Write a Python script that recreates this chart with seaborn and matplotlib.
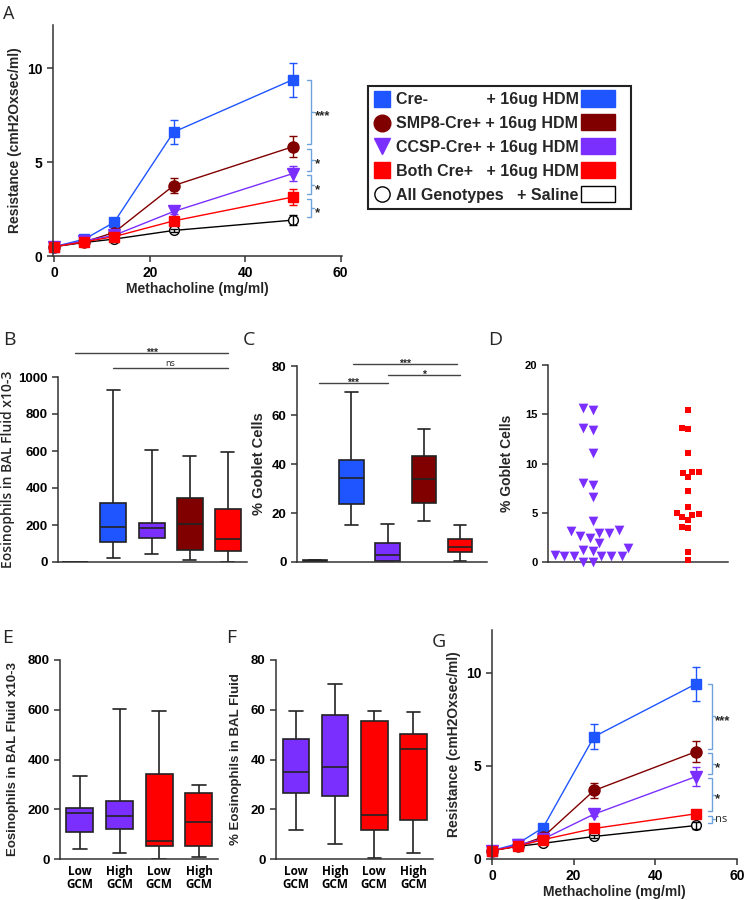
import numpy as np
import pandas as pd
import matplotlib
matplotlib.use("Agg")
import matplotlib.pyplot as plt
from matplotlib.lines import Line2D
from matplotlib.patches import Patch, Rectangle
from matplotlib.legend_handler import HandlerPatch
from matplotlib.font_manager import FontProperties
import seaborn as sns

# ---------------- data ----------------
doses = [0, 6.25, 12.5, 25, 50]

# panel A: resistance, mean / SEM per dose
a_cre = [0.5, 0.89, 1.79, 6.6, 9.39]
a_cre_err = [0.05, 0.05, 0.1, 0.65, 0.9]
a_smp8 = [0.5, 0.75, 1.25, 3.75, 5.82]
a_smp8_err = [0.05, 0.05, 0.1, 0.38, 0.55]
a_ccsp = [0.5, 0.8, 1.1, 2.37, 4.39]
a_ccsp_err = [0.05, 0.05, 0.08, 0.12, 0.4]
a_both = [0.5, 0.75, 1.03, 1.87, 3.14]
a_both_err = [0.05, 0.05, 0.08, 0.15, 0.42]
a_saline = [0.5, 0.72, 0.9, 1.36, 1.91]
a_saline_err = [0.05, 0.05, 0.05, 0.1, 0.25]
a_stars = ["***", "*", "*", "*"]

# panel G: resistance, mean / SEM per dose
g_cre = [0.45, 0.82, 1.68, 6.57, 9.41]
g_cre_err = [0.05, 0.05, 0.1, 0.68, 0.91]
g_smp8 = [0.45, 0.7, 1.18, 3.68, 5.77]
g_smp8_err = [0.05, 0.05, 0.1, 0.41, 0.58]
g_ccsp = [0.45, 0.75, 1.07, 2.41, 4.43]
g_ccsp_err = [0.05, 0.05, 0.08, 0.12, 0.52]
g_both = [0.45, 0.68, 1.04, 1.64, 2.43]
g_both_err = [0.05, 0.05, 0.08, 0.15, 0.15]
g_saline = [0.45, 0.68, 0.84, 1.21, 1.80]
g_saline_err = [0.05, 0.05, 0.05, 0.1, 0.2]
g_stars = ["***", "*", "*", "ns"]

# legend text
legend_genotypes = ["Cre-", "SMP8-Cre+", "CCSP-Cre+", "Both Cre+", "All Genotypes"]
legend_treatments = ["+ 16ug HDM", "+ 16ug HDM", "+ 16ug HDM", "+ 16ug HDM", "+ Saline"]

# box panels: [min, Q1, median, Q3, max]
box_groups = ["Saline", "Cre-", "CCSP-Cre+", "SMP8-Cre+", "Both Cre+"]
b_saline = [0, 0, 0, 0, 0]
b_cre = [24, 108, 191, 321, 932]
b_ccsp = [41, 130, 186, 210, 606]
b_smp8 = [9, 67, 203, 348, 575]
b_both = [0, 58, 126, 287, 596]

c_saline = [0.3, 0.5, 0.6, 0.8, 1.0]
c_cre = [15.0, 23.7, 34.2, 41.8, 69.2]
c_ccsp = [0.0, 0.4, 2.7, 7.8, 15.7]
c_smp8 = [16.8, 24.1, 33.7, 43.2, 54.2]
c_both = [0.4, 4.0, 6.3, 9.5, 15.3]

gcm_groups = ["CCSP Low", "CCSP High", "Both Low", "Both High"]
gcm_labels = ["Low\nGCM", "High\nGCM", "Low\nGCM", "High\nGCM"]
e_ccsp_low = [40, 109, 183, 204, 333]
e_ccsp_high = [25, 121, 173, 232, 605]
e_both_low = [0, 52, 72, 343, 595]
e_both_high = [8, 52, 147, 265, 296]

f_ccsp_low = [11.5, 26.7, 34.8, 48.3, 59.5]
f_ccsp_high = [6.2, 25.5, 37.1, 57.9, 70.2]
f_both_low = [0.3, 11.5, 17.6, 55.5, 59.5]
f_both_high = [2.5, 15.7, 44.2, 50.4, 59.1]

# panel D: % goblet cells per mouse
d_ccsp = [15.6, 15.4, 13.4, 13.6, 11.1, 7.8, 8.0, 6.6, 4.2, 3.1, 2.9, 3.2, 2.9,
          2.4, 2.6, 1.9, 1.2, 1.4, 1.1, 0.6, 0.6, 0.6, 0.6, 0.6, 0.7, 0.05, 0.05]
d_both = [15.4, 13.5, 13.6, 11.1, 9.1, 8.6, 9.0, 9.1, 7.2, 5.6, 5.0, 4.9, 4.6,
          4.8, 4.3, 3.5, 3.6, 1.0, 0.2]

# ---------------- style ----------------
BLUE = "#1f55ff"
DRED = "#800000"
PURP = "#7b2fff"
RED = "#ff0000"
GRAY = "#777777"
BRACE = "#6fa3dc"
INK = "#222222"

sns.set_style("ticks")
plt.rcParams["font.family"] = ["Liberation Sans", "DejaVu Sans"]
plt.rcParams["font.weight"] = "bold"
plt.rcParams["axes.labelweight"] = "bold"
plt.rcParams["axes.edgecolor"] = "#333333"
plt.rcParams["axes.linewidth"] = 1.1
plt.rcParams["xtick.color"] = "#333333"
plt.rcParams["ytick.color"] = "#333333"
plt.rcParams["xtick.labelcolor"] = "black"
plt.rcParams["ytick.labelcolor"] = "black"

W, H = 747, 900
fig = plt.figure(figsize=(W / 100, H / 100), dpi=100)


def px_axes(l, t, r, b):
    return fig.add_axes([l / W, 1 - b / H, (r - l) / W, (b - t) / H])


def letter(x, y, s, size=14):
    fig.text(x / W, 1 - y / H, s, ha="left", va="top", fontsize=size,
             family="Open Sans", fontweight="normal")


def style_ax(ax, tsize=9):
    sns.despine(ax=ax)
    ax.tick_params(direction="out", length=4, width=1.1, labelsize=tsize)
    for lab in ax.get_yticklabels() + ax.get_xticklabels():
        lab.set_fontweight("bold")


def resistance_panel(ax, series, stars, xlim):
    for m, e, col, mk, face, ms in series:
        m = np.array(m)
        e = np.array(e)
        df = pd.DataFrame({"dose": doses * 2, "res": np.r_[m - e, m + e]})
        sns.lineplot(data=df, x="dose", y="res", ax=ax, color=col, lw=1,
                     marker=mk, markersize=ms, mfc=face, mec=col, mew=1,
                     err_style="bars", errorbar=("pi", 100),
                     err_kws=dict(capsize=3, elinewidth=1, capthick=1),
                     clip_on=False)
    # significance braces at the last dose (HDM groups top-down, then saline)
    order = [series[1][0][-1], series[2][0][-1], series[3][0][-1],
             series[4][0][-1], series[0][0][-1]]
    x0 = 52.9
    for i, st in enumerate(stars):
        hi = order[i] - (0.1 if i > 0 else 0)
        lo = order[i + 1] + 0.15
        mid = (hi + lo) / 2
        ax.plot([x0, x0 + 0.9, x0 + 0.9, x0], [hi, hi, lo, lo], color=BRACE,
                lw=1, clip_on=False)
        ax.plot([x0 + 0.9, x0 + 1.6], [mid, mid], color=BRACE, lw=1,
                clip_on=False)
        if st == "ns":
            ax.annotate(st, (x0 + 1.8, mid), xytext=(0, 0),
                        textcoords="offset points", ha="left", va="center",
                        fontsize=8, fontweight="normal", family="Open Sans")
        else:
            ax.annotate(st, (x0 + 1.7, mid), xytext=(0, -3.5),
                        textcoords="offset points", ha="left", va="center",
                        fontsize=9.5)
    ax.set_xlim(*xlim)
    ax.set_ylim(0, 12.3)
    ax.set_xticks([0, 20, 40, 60])
    ax.set_yticks([0, 5, 10])
    ax.set_xlabel("Methacholine (mg/ml)", fontsize=10, labelpad=1)
    ax.set_ylabel("Resistance (cmH2Oxsec/ml)", fontsize=10)
    style_ax(ax, 10)


def box_panel(ax, groups, values, colors, order):
    df = pd.DataFrame({"group": np.repeat(groups, 5),
                       "value": np.concatenate(values)})
    sns.boxplot(data=df, x="group", y="value", hue="group", order=order,
                hue_order=order, palette=dict(zip(groups, colors)),
                whis=(0, 100), width=0.68, linewidth=1.2, linecolor=INK,
                saturation=1, legend=False, ax=ax)
    ax.set_xlabel("")


def sig_line(ax, x0, x1, y, s):
    ax.plot([x0, x1], [y, y], color="#444444", lw=1, clip_on=False)
    if s == "ns":
        ax.text((x0 + x1) / 2, y, s, ha="center", va="bottom", fontsize=6.5,
                fontweight="normal", family="Open Sans")
    else:
        ax.text((x0 + x1) / 2, y, s, ha="center", va="center", fontsize=7.5)


# ---------------- panel A ----------------
ax_a = px_axes(53, 25, 342, 256)
series_a = [
    (a_saline, a_saline_err, "black", "o", "white", 7),
    (a_cre, a_cre_err, BLUE, "s", BLUE, 7),
    (a_smp8, a_smp8_err, DRED, "o", DRED, 8),
    (a_ccsp, a_ccsp_err, PURP, "v", PURP, 8),
    (a_both, a_both_err, RED, "s", RED, 7),
]
resistance_panel(ax_a, series_a, a_stars, (-0.3, 60.3))
letter(3, 5, "A", 13)

# legend: genotype and treatment aligned with measured space padding
leg_font = FontProperties(family=["Liberation Sans", "DejaVu Sans"],
                          weight="bold", size=11.5)
renderer = fig.canvas.get_renderer()


def text_w(s):
    t = fig.text(0, 0, s, fontproperties=leg_font)
    w = t.get_window_extent(renderer).width
    t.remove()
    return w


space_w = text_w("a a") - text_w("aa")
col_x = max(text_w(g) for g in legend_genotypes[:4]) + space_w
end_x = max(col_x + text_w(legend_treatments[0]),
            text_w(legend_genotypes[4]) + space_w + text_w(legend_treatments[4]))
leg_labels = []
for i, (g, t) in enumerate(zip(legend_genotypes, legend_treatments)):
    if i < 4:
        gap = col_x - text_w(g)
    else:
        gap = end_x - text_w(g) - text_w(t)
    n = max(1, int(round(gap / space_w)))
    leg_labels.append(g + " " * n + t)


def wide_swatch(legend, orig_handle, xdescent, ydescent, width, height, fontsize):
    return Rectangle((-xdescent, -ydescent - 0.2 * height), 2.4 * width,
                     1.45 * height)


mk_handles = [
    Line2D([], [], ls="none", marker="s", ms=11, color=BLUE),
    Line2D([], [], ls="none", marker="o", ms=12, color=DRED),
    Line2D([], [], ls="none", marker="v", ms=12, color=PURP),
    Line2D([], [], ls="none", marker="s", ms=11, color=RED),
    Line2D([], [], ls="none", marker="o", ms=11, mfc="white", mec="black"),
]
swatches = [Patch(fc=BLUE, ec=BLUE), Patch(fc=DRED, ec=DRED),
            Patch(fc=PURP, ec=PURP), Patch(fc=RED, ec=RED),
            Patch(fc="white", ec="black", lw=1)]
leg = ax_a.legend(handles=mk_handles + swatches,
                  labels=leg_labels + ["     "] * 5,
                  ncol=2, loc="upper left", bbox_to_anchor=(368 / W, 1 - 86 / H),
                  bbox_transform=fig.transFigure, frameon=True, fancybox=False,
                  edgecolor=INK, framealpha=1, borderaxespad=0,
                  prop=leg_font, handlelength=0.9, handletextpad=0.45,
                  columnspacing=0.1, labelspacing=0.55, borderpad=0.4,
                  handler_map={Patch: HandlerPatch(patch_func=wide_swatch)})
leg.get_frame().set_linewidth(1.5)

# ---------------- panel B ----------------
ax_b = px_axes(58, 377, 247, 562)
box_panel(ax_b, box_groups, [b_saline, b_cre, b_ccsp, b_smp8, b_both],
          [GRAY, BLUE, PURP, DRED, RED], box_groups)
ax_b.set_xlim(-0.45, 4.5)
ax_b.set_ylim(0, 1000)
ax_b.set_yticks(range(0, 1001, 200))
ax_b.set_ylabel("Eosinophils in BAL Fluid x10-3", fontsize=10,
                family="Open Sans", fontweight="semibold", labelpad=2)
style_ax(ax_b, 9.5)
ax_b.tick_params(axis="x", length=0, labelbottom=False)
sig_line(ax_b, 0, 4, 1130, "***")
sig_line(ax_b, 1, 4, 1050, "ns")
letter(3, 331, "B")

# ---------------- panel C ----------------
ax_c = px_axes(297, 366, 487, 562)
box_panel(ax_c, box_groups, [c_saline, c_cre, c_ccsp, c_smp8, c_both],
          [GRAY, BLUE, PURP, DRED, RED], box_groups)
ax_c.set_xlim(-0.5, 4.74)
ax_c.set_ylim(0, 80)
ax_c.set_yticks(range(0, 81, 20))
ax_c.set_ylabel("% Goblet Cells", fontsize=10.5, labelpad=4)
style_ax(ax_c, 9.5)
ax_c.tick_params(axis="x", length=0, labelbottom=False)
sig_line(ax_c, 0.1, 2.0, 73, "***")
sig_line(ax_c, 1.05, 3.9, 81, "***")
sig_line(ax_c, 2.0, 4.0, 76.3, "*")
letter(243, 331, "C")

# ---------------- panel D ----------------
ax_d = px_axes(548, 365, 728, 562)
d_order = ["CCSP-Cre+", "Both Cre+"]
sns.swarmplot(x=["CCSP-Cre+"] * len(d_ccsp), y=d_ccsp, order=d_order,
              marker="v", color=PURP, size=7, linewidth=0, ax=ax_d)
sns.swarmplot(x=["Both Cre+"] * len(d_both), y=d_both, order=d_order,
              marker="s", color=RED, size=4.5, linewidth=0, ax=ax_d)
ax_d.set_xlim(-0.47, 1.42)
ax_d.set_ylim(0, 20)
ax_d.set_yticks(range(0, 21, 5))
ax_d.set_ylabel("% Goblet Cells", fontsize=10, labelpad=8)
style_ax(ax_d, 8)
ax_d.tick_params(axis="x", length=0, labelbottom=False)
for c in ax_d.collections:
    c.set_clip_on(False)
letter(488, 331, "D")

# ---------------- panel E ----------------
ax_e = px_axes(60, 660, 218, 859)
box_panel(ax_e, gcm_groups, [e_ccsp_low, e_ccsp_high, e_both_low, e_both_high],
          [PURP, PURP, RED, RED], gcm_groups)
ax_e.set_xlim(-0.5, 3.48)
ax_e.set_ylim(0, 800)
ax_e.set_yticks(range(0, 801, 200))
ax_e.set_ylabel("Eosinophils in BAL Fluid x10-3", fontsize=9.5, labelpad=6)
style_ax(ax_e, 9.5)
ax_e.tick_params(axis="x", length=0, pad=4)
ax_e.set_xticks(range(4))
ax_e.set_xticklabels(gcm_labels, family="Open Sans", fontweight="bold",
                     fontsize=8.5, linespacing=1.05)
letter(2, 629, "E")

# ---------------- panel F ----------------
ax_f = px_axes(276, 660, 433, 859)
box_panel(ax_f, gcm_groups, [f_ccsp_low, f_ccsp_high, f_both_low, f_both_high],
          [PURP, PURP, RED, RED], gcm_groups)
ax_f.set_xlim(-0.51, 3.5)
ax_f.set_ylim(0, 80)
ax_f.set_yticks(range(0, 81, 20))
ax_f.set_ylabel("% Eosinophils in BAL Fluid", fontsize=9.5, labelpad=6)
style_ax(ax_f, 9.5)
ax_f.tick_params(axis="x", length=0, pad=4)
ax_f.set_xticks(range(4))
ax_f.set_xticklabels(gcm_labels, family="Open Sans", fontweight="bold",
                     fontsize=8.5, linespacing=1.05)
letter(226, 629, "F")

# ---------------- panel G ----------------
ax_g = px_axes(492, 630, 737, 859)
series_g = [
    (g_saline, g_saline_err, "black", "o", "white", 7),
    (g_cre, g_cre_err, BLUE, "s", BLUE, 7),
    (g_smp8, g_smp8_err, DRED, "o", DRED, 8),
    (g_ccsp, g_ccsp_err, PURP, "v", PURP, 8),
    (g_both, g_both_err, RED, "s", RED, 7),
]
resistance_panel(ax_g, series_g, g_stars, (0, 60))
letter(432, 633, "G")

fig.savefig("out.png", dpi=100)
